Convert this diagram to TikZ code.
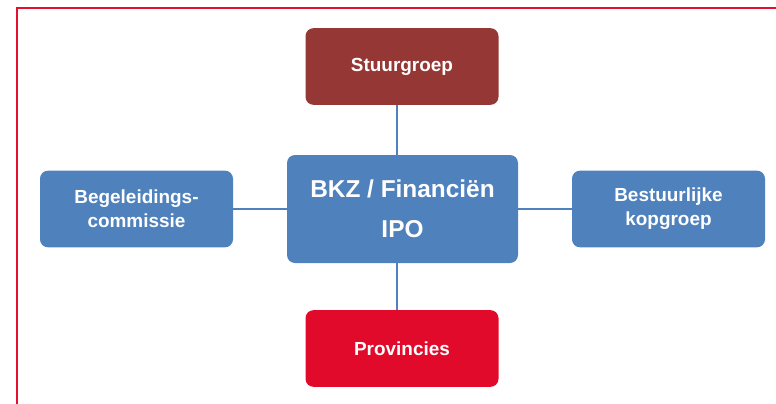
\documentclass[tikz,border=0pt]{standalone}
\usepackage{fontspec}
\setmainfont{Liberation Sans}
\definecolor{ipoblue}{HTML}{4F81BD}
\definecolor{ipodarkred}{HTML}{953735}
\definecolor{ipored}{HTML}{E20A2A}
\definecolor{framered}{HTML}{E3112F}
\begin{document}
\begin{tikzpicture}[x=0.75pt,y=-0.75pt]
		\tikzstyle{orgbox}=[rounded corners=6pt,draw=none,text=white,font=\bfseries\fontsize{14.2}{18}\selectfont,align=center,minimum width=144.75pt,minimum height=57.5pt,inner sep=0pt]
		\tikzstyle{hub}=[orgbox,fill=ipoblue,font=\bfseries\fontsize{18.3}{30}\selectfont,minimum width=173.25pt,minimum height=81pt]
		\tikzstyle{link}=[draw=ipoblue,line width=1.5pt]

		\useasboundingbox (0,0) rectangle (776,404);
		\draw[framered,line width=1.9pt] (17,420) -- (17,8) -- (790,8);

		\node [hub] (bkz) at (402.5,209) {BKZ / Financiën\\IPO};
		\node [orgbox,fill=ipodarkred] (stuurgroep) at (402,66.5) {Stuurgroep};
		\node [orgbox,fill=ipored] (provincies) at (402,348.5) {Provincies};
		\node [orgbox,fill=ipoblue] (begeleiding) at (136.5,209) {Begeleidings-\\commissie};
		\node [orgbox,fill=ipoblue] (bestuur) at (668.5,209) {Bestuurlijke\\kopgroep};

		\path[link] ([xshift=-3.4pt]stuurgroep.south) -- ([xshift=-3.4pt]stuurgroep.south |- bkz.north);
		\path[link] ([xshift=-3.4pt]provincies.north |- bkz.south) -- ([xshift=-3.4pt]provincies.north);
		\path[link] (begeleiding) -- (bkz);
		\path[link] (bkz) -- (bestuur);
\end{tikzpicture}
\end{document}
